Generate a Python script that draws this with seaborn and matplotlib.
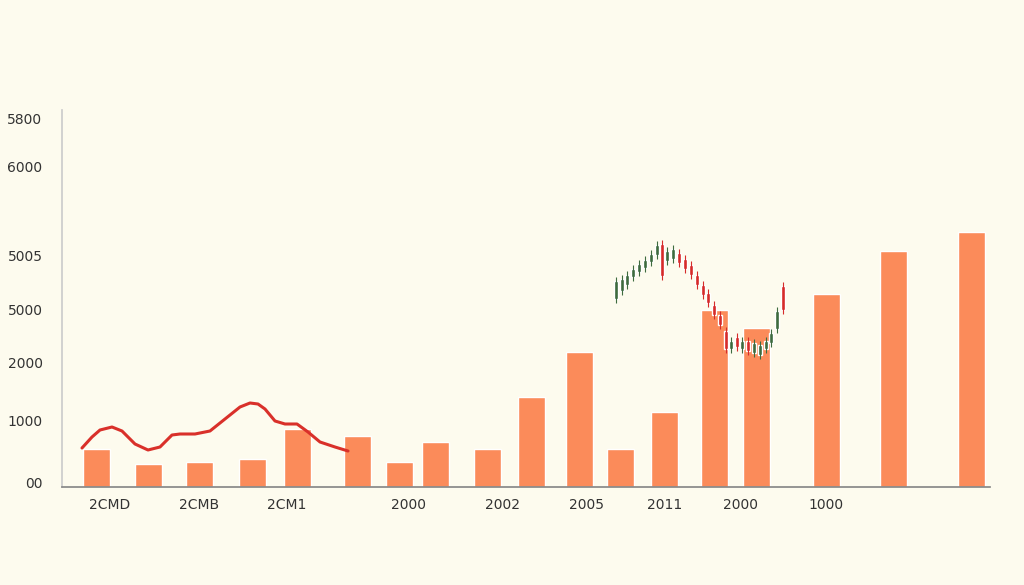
import matplotlib
matplotlib.use("Agg")
import matplotlib.pyplot as plt
import seaborn as sns
import pandas as pd

bar_x = [96,148,199,252,297,357,399,435,487,531,579,620,664,714,756,826,893,971]
bar_h = [380,230,250,280,580,510,250,450,380,900,1350,380,750,1770,1590,1930,2360,2550]
line_x = [82,92,100,112,122,135,148,160,172,180,195,210,225,240,250,258,265,275,285,297,308,320,335,348]
line_y = [390,500,570,600,560,430,370,400,520,530,530,560,680,800,840,830,780,660,630,630,550,450,400,360]
candle_x = [616,622,627,633,639,645,651,657,662,667,673,679,685,691,697,703,708,714,720,726,731,737,742,748,754,760,766,771,777,783]
candle_open = [1880,1960,2020,2100,2150,2190,2250,2320,2430,2260,2280,2340,2280,2220,2120,2020,1940,1820,1720,1560,1380,1500,1380,1460,1340,1320,1380,1440,1580,2010]
candle_close = [2060,2080,2120,2180,2230,2270,2330,2420,2110,2360,2380,2240,2180,2120,2020,1920,1840,1720,1620,1380,1460,1400,1460,1360,1440,1420,1460,1540,1760,1770]
ytick_vals = [40,660,1240,1780,2320,3200,3690]
ytick_labels = ["00","1000","2000","5000","5005","6000","5800"]
xtick_pos = [110,199,287,409,503,587,665,741,826]
xtick_labels = ["2CMD","2CMB","2CM1","2000","2002","2005","2011","2000","1000"]

bg = "#FDFBEE"
sns.set_theme(style="white")
plt.rcParams["font.family"] = ["DejaVu Sans"]
fig = plt.figure(figsize=(10.24, 5.85), dpi=100, facecolor=bg)
ax = fig.add_axes([62/1024, 98/585, 928/1024, 377/585], facecolor=bg)

df = pd.DataFrame({"x": bar_x, "h": bar_h})
sns.barplot(data=df, x="x", y="h", native_scale=True, width=0.75, color="#FB8B5A",
            saturation=1, ax=ax)
sns.lineplot(x=line_x, y=line_y, color="#D9302A", linewidth=2.2, ax=ax, sort=False)

for x, o, c in zip(candle_x, candle_open, candle_close):
    col = "#3E6B3F" if c > o else "#D62B2B"
    lo, hi = min(o, c), max(o, c)
    ax.vlines(x, lo - 40, hi + 40, color=col, linewidth=0.8)
    ax.bar(x, hi - lo, bottom=lo, width=3.5, color=col)

ax.set_xlim(62, 990)
ax.set_ylim(0, 3770)
ax.set_yticks(ytick_vals)
ax.set_yticklabels(ytick_labels, fontsize=10, color="#333333")
ax.set_xticks(xtick_pos)
ax.set_xticklabels(xtick_labels, fontsize=10, color="#333333")
ax.tick_params(axis="both", length=0, pad=8)
ax.tick_params(axis="y", pad=14)
ax.set_xlabel(""); ax.set_ylabel("")
for s in ["top", "right"]:
    ax.spines[s].set_visible(False)
ax.spines["left"].set_color("#CCCCCC")
ax.spines["bottom"].set_color("#888888")
fig.savefig("out.png", dpi=100, facecolor=bg)
